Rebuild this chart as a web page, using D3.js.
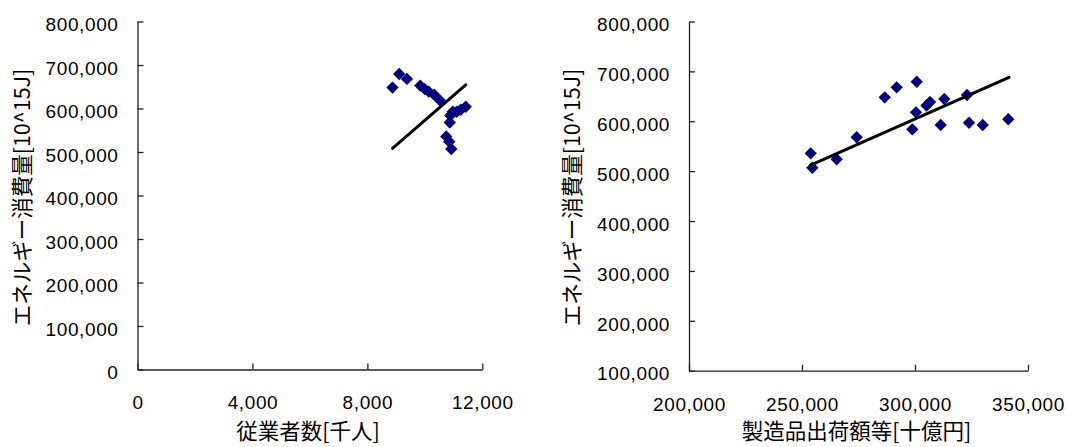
<!DOCTYPE html>
<html>
<head>
<meta charset="utf-8">
<script src="https://cdn.jsdelivr.net/npm/d3@7"></script>
<style>
  html, body { margin: 0; padding: 0; background: #fff; }
  svg { display: block; }
  .tick text { font-family: "Liberation Sans", Arial, sans-serif; font-size: 19px; fill: #000; letter-spacing: 0.6px; }
  .title { font-family: "Noto Sans CJK JP", sans-serif; font-size: 21.5px; fill: #000; }
</style>
</head>
<body>
<svg id="chart" width="1067" height="447"></svg>
<script>
// Energy consumption [10^15 J], one value per observation
const energy = [535800, 506900, 523800, 567900, 648000, 668100, 679300, 583900, 618000,
                631600, 638600, 644700, 592500, 652700, 597100, 592500, 604000];
// Employees [thousand persons], same order as energy
const employees = [10745, 10920, 10850, 10867, 8875, 9377, 9108, 10884, 10536,
                   10327, 10136, 9997, 10972, 9840, 11250, 11111, 11424];
// Shipments of manufactured goods [billion yen], same order as energy
const shipments = [253850, 254560, 265350, 274200, 286590, 291900, 300750, 298800, 300440,
                   305090, 306640, 312960, 311370, 323010, 323900, 329960, 341280];

// Fitted lines (start / end)
const fitEmployeesX = [8875, 11424];
const fitEmployeesY = [508500, 654500];
const fitShipmentsX = [253850, 341590];
const fitShipmentsY = [512300, 688150];

// Tick values
const ticksEnergyLeft = [0, 100000, 200000, 300000, 400000, 500000, 600000, 700000, 800000];
const ticksEmployees = [0, 4000, 8000, 12000];
const ticksEnergyRight = [100000, 200000, 300000, 400000, 500000, 600000, 700000, 800000];
const ticksShipments = [200000, 250000, 300000, 350000];

const yTitle = "エネルギー消費量[10^15J]";
const xTitleLeft = "従業者数[千人]";
const xTitleRight = "製造品出荷額等[十億円]";

const svg = d3.select("#chart");
const fmt = d3.format(",");
const markerColor = "#000080";
const diamond = d3.symbol().type(d3.symbolSquare).size(76);

function panel(cfg) {
  const x = d3.scaleLinear().domain(cfg.xDomain).range(cfg.xRange);
  const y = d3.scaleLinear().domain(cfg.yDomain).range(cfg.yRange);
  const g = svg.append("g");

  // y axis: ticks point inward
  const ya = g.append("g")
    .attr("transform", `translate(${cfg.xRange[0]},0)`)
    .call(d3.axisLeft(y).tickValues(cfg.yTicks).tickFormat(fmt)
      .tickSize(-6).tickSizeOuter(0).tickPadding(19));
  ya.selectAll("text").attr("y", 2.4).attr("dy", "0.36em");

  // x axis: ticks point inward
  g.append("g")
    .attr("transform", `translate(0,${cfg.yRange[0]})`)
    .call(d3.axisBottom(x).tickValues(cfg.xTicks).tickFormat(fmt)
      .tickSize(-6).tickSizeOuter(0).tickPadding(26.5));

  g.selectAll(".domain, .tick line").attr("stroke", "#222").attr("stroke-width", 1.3);

  // data points
  g.append("g").selectAll("path")
    .data(cfg.xs.map((v, i) => [v, energy[i]]))
    .join("path")
    .attr("d", diamond)
    .attr("fill", markerColor)
    .attr("transform", d => `translate(${x(d[0])},${y(d[1])}) rotate(45)`);

  // fitted line
  g.append("line")
    .attr("x1", x(cfg.fitX[0])).attr("y1", y(cfg.fitY[0]))
    .attr("x2", x(cfg.fitX[1])).attr("y2", y(cfg.fitY[1]))
    .attr("stroke", "#000").attr("stroke-width", 3).attr("stroke-linecap", "round");

  // axis titles
  g.append("text").attr("class", "title")
    .attr("text-anchor", "middle")
    .attr("transform", `translate(${cfg.yTitleX},197.5) rotate(-90)`)
    .attr("dy", "0.36em")
    .text(yTitle);
  g.append("text").attr("class", "title")
    .attr("text-anchor", "middle")
    .attr("x", (cfg.xRange[0] + cfg.xRange[1]) / 2 - 2)
    .attr("y", 439)
    .text(cfg.xTitle);
}

panel({
  xDomain: [0, 12000], xRange: [137.5, 482.3],
  yDomain: [0, 800000], yRange: [369.5, 21.5],
  xTicks: ticksEmployees, yTicks: ticksEnergyLeft,
  xs: employees, fitX: fitEmployeesX, fitY: fitEmployeesY,
  yTitleX: 22, xTitle: xTitleLeft
});

panel({
  xDomain: [200000, 350000], xRange: [689, 1028],
  yDomain: [100000, 800000], yRange: [370.7, 21.5],
  xTicks: ticksShipments, yTicks: ticksEnergyRight,
  xs: shipments, fitX: fitShipmentsX, fitY: fitShipmentsY,
  yTitleX: 572.5, xTitle: xTitleRight
});
</script>
</body>
</html>
